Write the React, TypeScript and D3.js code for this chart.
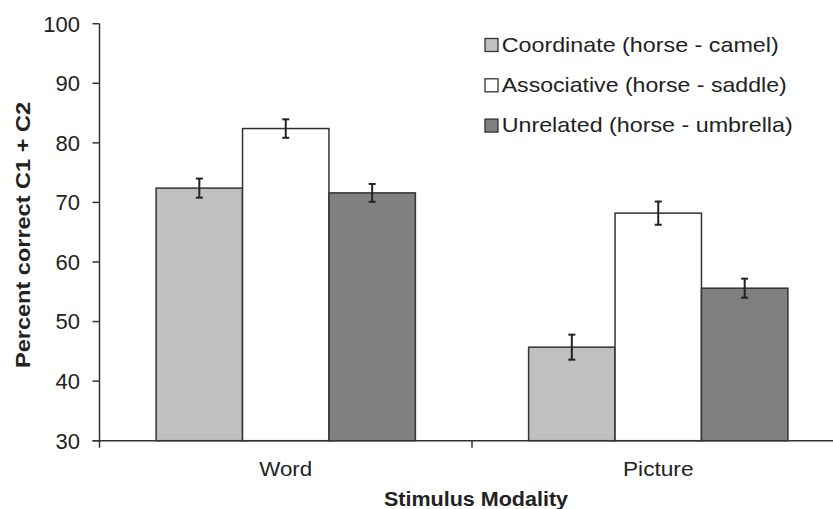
import React, { useEffect } from "react";
import * as d3 from "d3";

const categories = ["Word", "Picture"];
const seriesNames = [
  "Coordinate (horse - camel)",
  "Associative (horse - saddle)",
  "Unrelated (horse - umbrella)",
];
const coordinate = [72.4, 45.7];
const associative = [82.4, 68.2];
const unrelated = [71.6, 55.6];
const coordinateErr = [1.6, 2.1];
const associativeErr = [1.55, 1.95];
const unrelatedErr = [1.5, 1.6];
const yTicks = [30, 40, 50, 60, 70, 80, 90, 100];

const seriesValues = [coordinate, associative, unrelated];
const seriesErrs = [coordinateErr, associativeErr, unrelatedErr];
const fills = ["#c0c0c0", "#ffffff", "#808080"];

const W = 833;
const H = 509;
const FONT = "'Liberation Sans', Arial, Helvetica, sans-serif";

export default function App() {
  useEffect(() => {
    document.body.style.margin = "0";
  }, []);

  const x0 = d3.scaleBand<string>().domain(categories).range([99.5, 844.5]).paddingInner(0).paddingOuter(0);
  const x1 = d3
    .scaleBand<string>()
    .domain(seriesNames)
    .range([0, x0.bandwidth()])
    .paddingInner(0)
    .paddingOuter(0.655);
  const y = d3.scaleLinear().domain([30, 100]).range([440.7, 23.7]);
  const axisX = 99.5;
  const baseY = y(30);

  const legendTextLen = [277, 285, 291];

  return (
    <svg
      width={W}
      height={H}
      style={{ display: "block", position: "fixed", left: 0, top: 0, background: "#fff" }}
      fontFamily={FONT}
    >
      <rect x={0} y={0} width={W} height={H} fill="#fff" />
      {/* bars */}
      {categories.map((c, ci) => (
        <g key={c} transform={`translate(${x0(c)},0)`}>
          {seriesNames.map((s, si) => {
            const v = seriesValues[si][ci];
            const e = seriesErrs[si][ci];
            const bx = x1(s)!;
            const bw = x1.bandwidth();
            const cx = bx + bw / 2;
            return (
              <g key={s}>
                <rect
                  x={bx}
                  y={y(v)}
                  width={bw}
                  height={baseY - y(v)}
                  fill={fills[si]}
                  stroke="#333"
                  strokeWidth={1.5}
                />
                <line x1={cx} x2={cx} y1={y(v + e)} y2={y(v - e)} stroke="#222" strokeWidth={2} />
                <line x1={cx - 3.5} x2={cx + 3.5} y1={y(v + e)} y2={y(v + e)} stroke="#222" strokeWidth={2} />
                <line x1={cx - 3.5} x2={cx + 3.5} y1={y(v - e)} y2={y(v - e)} stroke="#222" strokeWidth={2} />
              </g>
            );
          })}
        </g>
      ))}

      {/* y axis */}
      <line x1={axisX} x2={axisX} y1={y(100)} y2={baseY} stroke="#333" strokeWidth={1.5} />
      {yTicks.map((t) => (
        <g key={t}>
          <line x1={axisX - 7} x2={axisX} y1={y(t)} y2={y(t)} stroke="#333" strokeWidth={1.5} />
          <text x={80} y={y(t)} dy="0.36em" textAnchor="end" fontSize={22} fill="#222">
            {t}
          </text>
        </g>
      ))}

      {/* x axis */}
      <line x1={axisX - 7} x2={W} y1={baseY} y2={baseY} stroke="#333" strokeWidth={1.5} />
      {[...categories.map((c) => x0(c)!), x0(categories[categories.length - 1])! + x0.bandwidth()].map((tx, i) => (
        <line key={i} x1={tx} x2={tx} y1={baseY} y2={baseY + 7} stroke="#333" strokeWidth={1.5} />
      ))}
      {categories.map((c, i) => (
        <text
          key={c}
          x={x0(c)! + x0.bandwidth() / 2}
          y={476}
          textAnchor="middle"
          fontSize={21}
          fill="#222"
          textLength={i === 0 ? 53 : 70.5}
          lengthAdjust="spacingAndGlyphs"
        >
          {c}
        </text>
      ))}

      {/* axis titles */}
      <text
        x={476}
        y={505.5}
        textAnchor="middle"
        fontSize={20}
        fontWeight="bold"
        fill="#222"
        textLength={184}
        lengthAdjust="spacingAndGlyphs"
      >
        Stimulus Modality
      </text>
      <text
        transform={`translate(30,235) rotate(-90)`}
        textAnchor="middle"
        fontSize={20}
        fontWeight="bold"
        fill="#222"
        textLength={266}
        lengthAdjust="spacingAndGlyphs"
      >
        Percent correct C1 + C2
      </text>

      {/* legend */}
      {seriesNames.map((s, i) => (
        <g key={s} transform={`translate(485,${38.5 + i * 40.3})`}>
          <rect x={0} y={0} width={13} height={13} fill={fills[i]} stroke="#333" strokeWidth={1.3} />
          <text
            x={16.7}
            y={13.3}
            fontSize={21}
            fill="#222"
            textLength={legendTextLen[i]}
            lengthAdjust="spacingAndGlyphs"
          >
            {s}
          </text>
        </g>
      ))}
    </svg>
  );
}
